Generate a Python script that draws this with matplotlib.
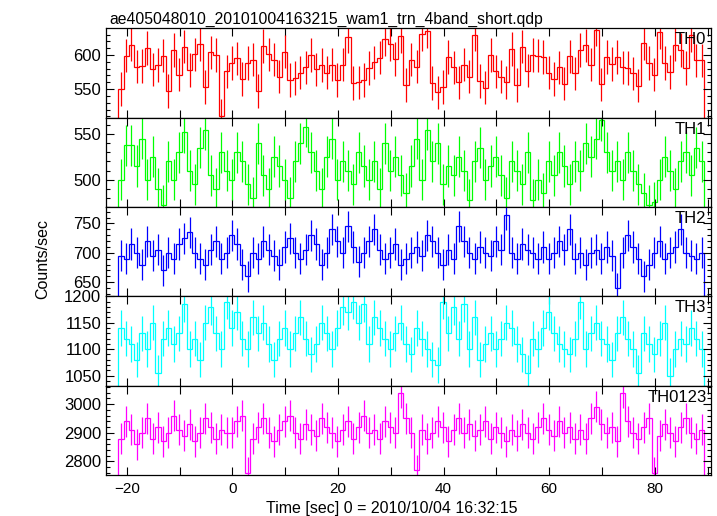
import numpy as np
import matplotlib
matplotlib.use("Agg")
import matplotlib.pyplot as plt
from matplotlib.ticker import MultipleLocator

plt.rcParams['font.family'] = ['Liberation Sans', 'DejaVu Sans']

# light curve, 1 s bins, first bin centre (s)
t_start = -21.1
bin_width = 1.0

th0 = [550, 599, 615, 583, 584, 610, 579, 585, 599, 547, 607, 571, 612, 578, 601, 616,
       553, 604, 600, 511, 576, 588, 595, 565, 588, 593, 547, 613, 601, 593, 568, 605,
       563, 566, 574, 582, 600, 579, 585, 574, 586, 563, 586, 627, 559, 560, 563, 581,
       589, 596, 623, 616, 594,
       628, 556, 593, 583, 631, 635, 559, 545, 553, 597, 582, 560, 586, 568, 630, 562,
       552, 600, 576, 568, 560, 609, 556, 612, 577, 600, 599, 597, 574, 565, 582, 558,
       598, 573, 607, 614, 586, 637, 557, 597, 587, 597, 582, 581, 573, 555, 617, 588,
       571, 633, 588, 575, 615, 607, 581, 629, 592, 592]

th1 = [500, 538, 538, 515, 545, 500, 525, 490, 472, 520, 500, 530, 552, 510, 495, 535,
       555, 505, 490, 530, 510, 500, 530, 520, 495, 480, 540, 505, 490, 525, 515, 500,
       480, 520, 540, 558, 530, 510, 490, 525, 545, 500, 520, 510, 495, 530, 515, 500,
       520, 490, 540, 510, 525, 505, 485, 515, 545, 500, 555, 520, 540, 495, 515, 505,
       525, 510, 478, 520, 535, 500, 515, 525, 505, 480, 520, 510, 495, 530, 478, 500,
       485, 520, 505, 530, 515, 495, 520, 510, 540, 525, 545, 565, 530, 510, 520, 500,
       530, 510, 495, 485, 472, 475, 500, 525, 510, 490, 520, 530, 505, 535, 520]

th2 = [695, 690, 715, 700, 680, 720, 695, 705, 670, 700, 690, 715, 725, 735, 700, 690,
       680, 705, 720, 690, 700, 730, 715, 680, 660, 700, 690, 720, 705, 695, 680, 710,
       725, 700, 690, 705, 730, 715, 680, 700, 740, 720, 700, 745, 710, 685, 700, 720,
       740, 705, 690, 700, 715, 680, 690, 700, 710, 695, 730, 720, 700, 680, 705, 690,
       745, 720, 700, 690, 710, 700, 695, 720, 705, 765, 700, 690, 715, 705, 700, 690,
       710, 690, 700, 720, 705, 740, 690, 700, 680, 700, 705, 690, 710, 695, 640, 700,
       730, 710, 690, 660, 680, 700, 720, 690, 700, 710, 740, 700, 695, 690, 700]

th3 = [1140, 1120, 1110, 1080, 1130, 1100, 1150, 1055, 1120, 1140, 1110, 1130, 1185, 1100,
       1120, 1080, 1150, 1180, 1130, 1100, 1190, 1140, 1170, 1120, 1100, 1160, 1130, 1150,
       1110, 1080, 1120, 1140, 1100, 1130, 1160, 1120, 1090, 1110, 1150, 1130, 1100, 1140,
       1180, 1170, 1190, 1150, 1185, 1110, 1160, 1140, 1120, 1100, 1130, 1150, 1110, 1090,
       1140, 1120, 1100, 1080, 1070, 1190, 1130, 1180, 1120, 1185, 1100, 1160, 1080, 1110,
       1130, 1100, 1120, 1150, 1140, 1110, 1090, 1055, 1120, 1100, 1140, 1170, 1130, 1110,
       1100, 1090, 1120, 1190, 1100, 1130, 1150, 1120, 1110, 1080, 1130, 1160, 1120, 1100,
       1055, 1130, 1110, 1090, 1120, 1150, 1050, 1100, 1120, 1110, 1140, 1120, 1100]

th0123 = [2880, 2940, 2910, 2860, 2900, 2950, 2880, 2920, 2870, 2900, 2960, 2910, 2890, 2930,
          2870, 2900, 2950, 2920, 2880, 2910, 2900, 2900, 2940, 2960, 2760, 2880, 2920, 2950,
          2900, 2870, 2910, 2940, 2960, 2900, 2880, 2930, 2910, 2890, 2950, 2920, 2900, 2870,
          2910, 2940, 2880, 2920, 2960, 2900, 2910, 2880, 2940, 2920, 2900, 3040, 2950, 2900,
          2770, 2910, 2880, 2900, 2940, 2920, 2870, 2910, 2950, 2900, 2930, 2890, 2910, 2940,
          2880, 2920, 2900, 2870, 2910, 2890, 2930, 2900, 2880, 2920, 2950, 2910, 2890, 2940,
          2900, 2920, 2880, 2910, 2880, 2950, 2990, 2930, 2900, 2920, 2870, 3040, 2940, 2900,
          2880, 2920, 2950, 2760, 2890, 2930, 2900, 2870, 2920, 2950, 2900, 2880, 2910]

# 1-sigma error of one bin in each band (c/s)
errors = [24.5, 22.5, 26.5, 33.5, 54.0]

series = [th0, th1, th2, th3, th0123]
names = ["TH0", "TH1", "TH2", "TH3", "TH0123"]
colors = ["#ff0000", "#00ff00", "#0000ff", "#00ffff", "#ff00ff"]
ylims = [(508, 639), (470, 568), (626, 778), (1031, 1200), (2753, 3064)]
ymajor = [50, 50, 50, 50, 100]
yminor = [10, 10, 10, 10, 20]

fig = plt.figure(figsize=(7.17, 5.16), dpi=100)
axes = fig.subplots(5, 1, sharex=True)
fig.subplots_adjust(left=0.148, right=0.992, top=0.945, bottom=0.0795, hspace=0)

for ax, vals, name, c, yl, ma, mi, err in zip(axes, series, names, colors, ylims,
                                              ymajor, yminor, errors):
    vals = np.array(vals, dtype=float)
    t = t_start + bin_width * np.arange(len(vals))
    edges = np.append(t - bin_width / 2, t[-1] + bin_width / 2)
    ax.stairs(vals, edges, color=c, lw=0.9)
    ax.errorbar(t, vals, yerr=err, fmt='none', ecolor=c, elinewidth=0.9)
    ax.set_ylim(*yl)
    ax.yaxis.set_major_locator(MultipleLocator(ma))
    ax.yaxis.set_minor_locator(MultipleLocator(mi))
    ax.xaxis.set_major_locator(MultipleLocator(20))
    ax.xaxis.set_minor_locator(MultipleLocator(10))
    ax.tick_params(which='both', direction='in', top=True, right=True, width=0.8)
    ax.tick_params(axis='y', labelsize=12)
    ax.tick_params(axis='x', labelsize=11, pad=5)
    ax.tick_params(which='major', length=6)
    ax.tick_params(which='minor', length=3)
    ax.tick_params(axis='x', which='minor', length=6)
    ax.text(0.992, 0.955, name, transform=ax.transAxes, ha='right', va='top', fontsize=12)
    for s in ax.spines.values():
        s.set_linewidth(0.9)

axes[-1].set_xlim(-23.9, 90.7)
fig.text(0.546, 0.014, "Time [sec] 0 = 2010/10/04 16:32:15", ha='center', va='center',
         fontsize=11.5)
fig.text(0.059, 0.499, "Counts/sec", rotation=90, ha='center', va='center', fontsize=11.5)
fig.text(0.152, 0.962, "ae405048010_20101004163215_wam1_trn_4band_short.qdp",
         ha='left', va='center', fontsize=11.3)

fig.savefig("out.png", dpi=100)
